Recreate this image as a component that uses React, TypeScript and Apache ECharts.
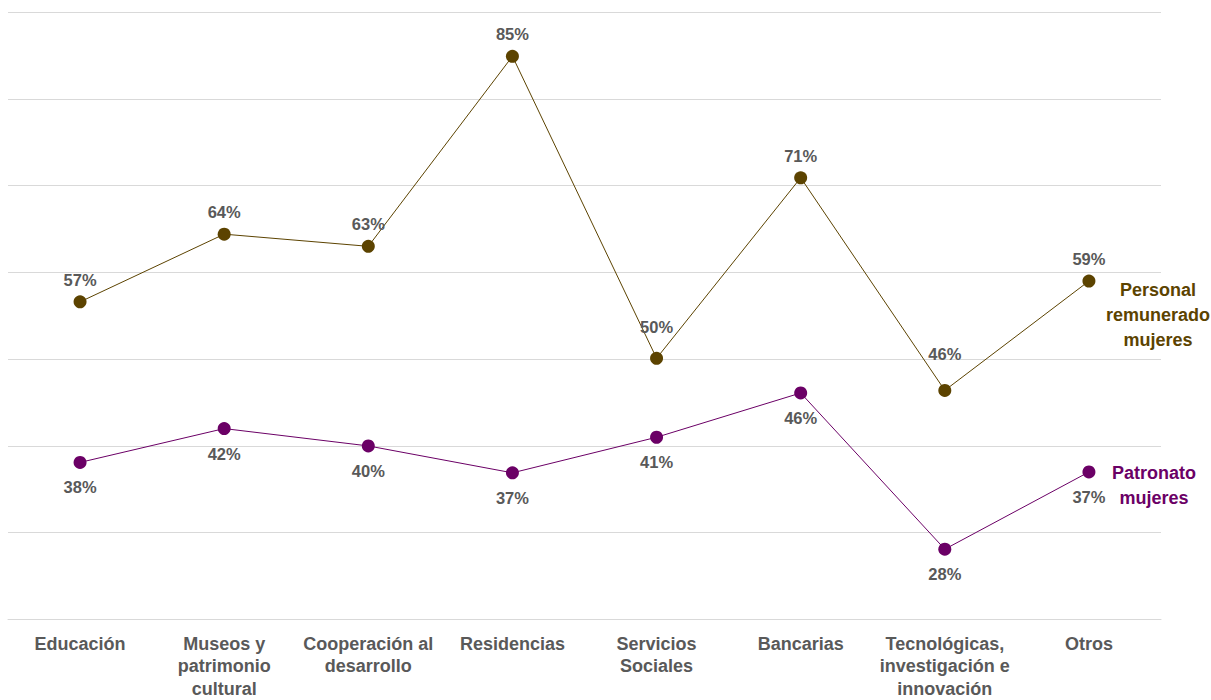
import React, { useEffect, useRef } from "react";
import * as echarts from "echarts";

const categories = [
  "Educación",
  "Museos y\npatrimonio\ncultural",
  "Cooperación al\ndesarrollo",
  "Residencias",
  "Servicios\nSociales",
  "Bancarias",
  "Tecnológicas,\ninvestigación e\ninnovación",
  "Otros",
];
const personalMujeres = [56.6, 64.4, 63.0, 84.9, 50.1, 70.9, 46.4, 59.0];
const patronatoMujeres = [38.1, 42.0, 40.0, 36.9, 41.0, 46.1, 28.1, 37.0];
const personalName = "Personal\nremunerado\nmujeres";
const patronatoName = "Patronato\nmujeres";
// extra lift of some labels (pixels) above the standard label position
const personalLabelLift = [0, 0, 0, 0, 9, 0, 14, 0];

const BROWN = "#5c4300";
const PURPLE = "#6b0066";
const GREY = "#595959";
const FONT = "Liberation Sans, Arial, sans-serif";

export default function App() {
  const ref = useRef<HTMLDivElement>(null);
  useEffect(() => {
    if (!ref.current) return;
    const chart = echarts.init(ref.current, undefined, { renderer: "svg" });
    const fmt = (p: any) => Math.round(p.value) + "%";
    const pctLabel = {
      color: GREY,
      fontSize: 16.5,
      fontWeight: "bold",
      fontFamily: FONT,
      formatter: fmt,
    };
    chart.setOption({
      animation: false,
      textStyle: { fontFamily: FONT },
      grid: { left: 8, right: 50, top: 12, bottom: 75 },
      xAxis: {
        type: "category",
        data: categories,
        boundaryGap: true,
        axisLine: { show: true, lineStyle: { color: "#d9d9d9", width: 1 } },
        axisTick: { show: false },
        axisLabel: {
          interval: 0,
          color: GREY,
          fontSize: 18,
          fontWeight: "bold",
          fontFamily: FONT,
          lineHeight: 22.5,
          margin: 13,
        },
      },
      yAxis: {
        type: "value",
        min: 20,
        max: 90,
        interval: 10,
        axisLabel: { show: false },
        axisLine: { show: false },
        axisTick: { show: false },
        splitLine: { lineStyle: { color: "#d9d9d9", width: 1 } },
      },
      series: [
        {
          name: "Personal remunerado mujeres",
          type: "line",
          data: personalMujeres.map((v, i) => ({
            value: v,
            label: { distance: 7 + personalLabelLift[i] },
          })),
          symbol: "circle",
          symbolSize: 13,
          itemStyle: { color: BROWN },
          lineStyle: { color: BROWN, width: 1 },
          label: { show: true, position: "top", distance: 7, ...pctLabel },
        },
        {
          name: "Patronato mujeres",
          type: "line",
          data: patronatoMujeres,
          symbol: "circle",
          symbolSize: 13,
          itemStyle: { color: PURPLE },
          lineStyle: { color: PURPLE, width: 1 },
          label: { show: true, position: "bottom", distance: 10, ...pctLabel },
        },
      ],
      graphic: [
        {
          type: "text",
          x: 1158,
          y: 315,
          style: {
            text: personalName,
            fill: BROWN,
            font: `bold 18px ${FONT}`,
            lineHeight: 25,
            align: "center",
            verticalAlign: "middle",
          },
        },
        {
          type: "text",
          x: 1154,
          y: 485,
          style: {
            text: patronatoName,
            fill: PURPLE,
            font: `bold 18px ${FONT}`,
            lineHeight: 25,
            align: "center",
            verticalAlign: "middle",
          },
        },
      ],
    });
    return () => chart.dispose();
  }, []);
  return (
    <div
      ref={ref}
      style={{ position: "absolute", left: 0, top: 0, width: 1211, height: 700, background: "#fff" }}
    />
  );
}
